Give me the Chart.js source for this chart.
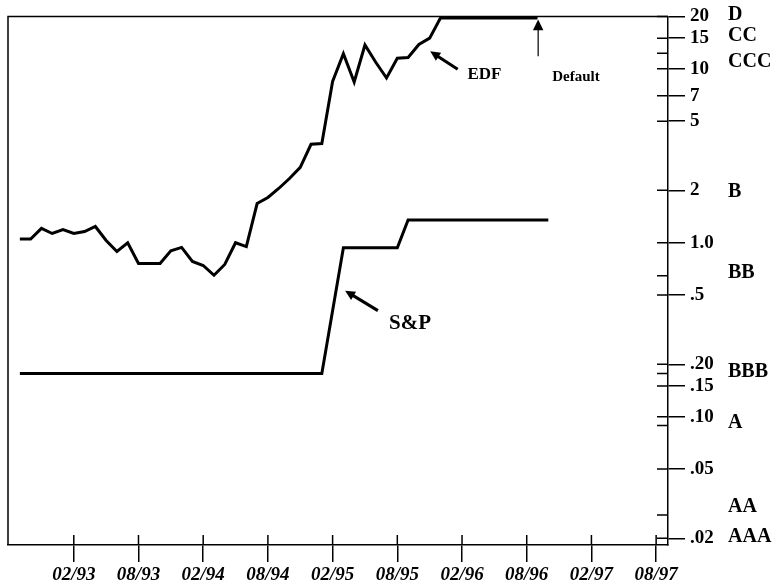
<!DOCTYPE html>
<html>
<head>
<meta charset="utf-8">
<script src="https://cdn.jsdelivr.net/npm/chart.js@4.4.0/dist/chart.umd.min.js"></script>
<style>
  body { margin: 0; background: #fff; }
  #wrap { width: 780px; height: 587px; }
</style>
</head>
<body>
<div id="wrap"><canvas id="edfChart" width="780" height="587"></canvas></div>
<script>
// months counted from 01/93 = 0
var edfStart = -4;
var edfValues = [
  1.05, 1.05, 1.21, 1.13, 1.19, 1.13, 1.16, 1.24, 1.03, 0.89,
  1.00, 0.76, 0.76, 0.76, 0.90, 0.94, 0.78, 0.74, 0.65, 0.75,
  1.00, 0.95, 1.68, 1.82, 2.05, 2.34, 2.71, 3.68, 3.72, 8.45,
  12.2, 8.4, 13.7, 10.9, 8.85, 11.5, 11.6, 13.8, 15.0, 19.6,
  19.6, 19.6, 19.6, 19.6, 19.6, 19.6, 19.6, 19.6, 19.6
];
var spMonths = [-4, 24, 26, 31, 32, 45];
var spValues = [0.177, 0.177, 0.935, 0.935, 1.35, 1.35];

var xTickMonths = [1, 7, 13, 19, 25, 31, 37, 43, 49, 55];
var xTickLabels = ["02/93", "08/93", "02/94", "08/94", "02/95", "08/95", "02/96", "08/96", "02/97", "08/97"];

var yTickValues = [20, 15, 10, 7, 5, 2, 1, 0.5, 0.2, 0.15, 0.1, 0.05, 0.02];
var yTickLabels = ["20", "15", "10", "7", "5", "2", "1.0", ".5", ".20", ".15", ".10", ".05", ".02"];
var minorTickValues = [12.3, 0.646, 0.177, 0.089, 0.0272];

var ratingNames = ["D", "CC", "CCC", "B", "BB", "BBB", "A", "AA", "AAA"];
var ratingValues = [20.3, 15.4, 11.0, 1.97, 0.667, 0.182, 0.0916, 0.0305, 0.0205];

var edfPoints = edfValues.map(function (v, i) {
  return { x: edfStart + i, y: v };
});
var spPoints = spMonths.map(function (m, i) {
  return { x: m, y: spValues[i] };
});

var serif = "'Liberation Serif', 'Times New Roman', serif";

function arrow(ctx, x1, y1, x2, y2, width, head) {
  var a = Math.atan2(y2 - y1, x2 - x1);
  ctx.beginPath();
  ctx.lineWidth = width;
  ctx.moveTo(x1, y1);
  ctx.lineTo(x2 - Math.cos(a) * head * 0.6, y2 - Math.sin(a) * head * 0.6);
  ctx.stroke();
  ctx.beginPath();
  ctx.moveTo(x2, y2);
  ctx.lineTo(x2 - head * Math.cos(a - 0.45), y2 - head * Math.sin(a - 0.45));
  ctx.lineTo(x2 - head * Math.cos(a + 0.45), y2 - head * Math.sin(a + 0.45));
  ctx.closePath();
  ctx.fill();
}

var framePlugin = {
  id: "frame",
  afterDraw: function (chart) {
    var ctx = chart.ctx;
    var area = chart.chartArea;
    var xs = chart.scales.x;
    var ys = chart.scales.y;
    ctx.save();
    ctx.strokeStyle = "#000";
    ctx.fillStyle = "#000";

    // top and left edges of the box
    ctx.lineWidth = 1.5;
    ctx.beginPath();
    ctx.moveTo(area.left, area.bottom);
    ctx.lineTo(area.left, area.top);
    ctx.lineTo(area.right, area.top);
    ctx.stroke();

    // inner halves of the ticks
    ctx.beginPath();
    yTickValues.forEach(function (v) {
      var y = ys.getPixelForValue(v);
      ctx.moveTo(area.right - 11, y);
      ctx.lineTo(area.right, y);
    });
    minorTickValues.forEach(function (v) {
      var y = ys.getPixelForValue(v);
      ctx.moveTo(area.right - 11, y);
      ctx.lineTo(area.right, y);
    });
    xTickMonths.forEach(function (m) {
      var x = xs.getPixelForValue(m);
      ctx.moveTo(x, area.bottom - 10);
      ctx.lineTo(x, area.bottom);
    });
    ctx.stroke();

    // rating names
    ctx.font = "bold 20px " + serif;
    ctx.textAlign = "left";
    ctx.textBaseline = "middle";
    ratingNames.forEach(function (n, i) {
      ctx.fillText(n, area.right + 60, ys.getPixelForValue(ratingValues[i]));
    });

    // annotations
    ctx.font = "bold 17px " + serif;
    ctx.fillText("EDF", xs.getPixelForValue(37.5), ys.getPixelForValue(9.3));
    arrow(ctx, xs.getPixelForValue(36.6), ys.getPixelForValue(9.94),
      xs.getPixelForValue(34.05), ys.getPixelForValue(12.6), 3, 11);

    ctx.font = "bold 15px " + serif;
    ctx.fillText("Default", xs.getPixelForValue(45.36), ys.getPixelForValue(8.94));
    arrow(ctx, xs.getPixelForValue(44.06), ys.getPixelForValue(11.8),
      xs.getPixelForValue(44.06), ys.getPixelForValue(19.2), 1.2, 12);

    ctx.font = "bold 21px " + serif;
    ctx.fillText("S&P", xs.getPixelForValue(30.24), ys.getPixelForValue(0.343));
    arrow(ctx, xs.getPixelForValue(29.2), ys.getPixelForValue(0.407),
      xs.getPixelForValue(26.16), ys.getPixelForValue(0.53), 3, 11);

    ctx.restore();
  }
};

var chart = new Chart(document.getElementById("edfChart").getContext("2d"), {
  type: "line",
  data: {
    datasets: [
      {
        label: "EDF",
        data: edfPoints,
        borderColor: "#000",
        borderWidth: 3,
        pointRadius: 0,
        tension: 0,
        fill: false,
      },
      {
        label: "S&P",
        data: spPoints,
        borderColor: "#000",
        borderWidth: 3,
        pointRadius: 0,
        tension: 0,
        fill: false,
      },
    ],
  },
  options: {
    responsive: false,
    animation: false,
    layout: { padding: { left: 8, top: 15, right: 0, bottom: 0 } },
    plugins: { legend: { display: false }, tooltip: { enabled: false } },
    scales: {
      x: {
        type: "linear",
        min: -5.1,
        max: 56.1,
        afterBuildTicks: function (s) {
          s.ticks = xTickMonths.map(function (m) { return { value: m }; });
        },
        afterFit: function (s) { s.height = 42; },
        ticks: {
          autoSkip: false,
          maxRotation: 0,
          padding: 2,
          color: "#000",
          font: { family: serif, size: 19, weight: "bold", style: "italic" },
          callback: function (v, i) { return xTickLabels[i]; },
        },
        grid: { drawOnChartArea: false, tickLength: 17, color: "#000", lineWidth: 1.5 },
        border: { color: "#000", width: 1.5 },
      },
      y: {
        type: "logarithmic",
        position: "right",
        min: 0.0183,
        max: 20,
        afterBuildTicks: function (s) {
          s.ticks = yTickValues.map(function (v) { return { value: v }; });
        },
        afterFit: function (s) { s.width = 112; },
        ticks: {
          autoSkip: false,
          padding: 5,
          color: "#000",
          font: { family: serif, size: 19, weight: "bold" },
          callback: function (v, i) { return yTickLabels[i]; },
        },
        grid: { drawOnChartArea: false, tickLength: 17, color: "#000", lineWidth: 1.5 },
        border: { color: "#000", width: 1.5 },
      },
    },
  },
  plugins: [framePlugin],
});
</script>
</body>
</html>
